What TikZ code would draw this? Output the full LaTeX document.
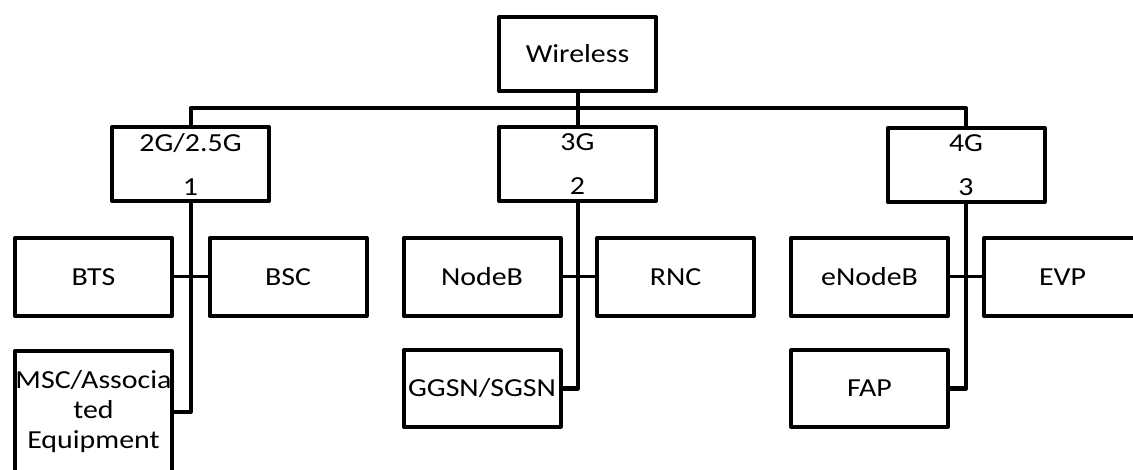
\documentclass[tikz,border=0pt]{standalone}
\usepackage{fontspec}
\setmainfont[FakeStretch=1.15]{Carlito}
\begin{document}
\begin{tikzpicture}[x=1pt,y=-1pt,
  unitbox/.style={draw, line width=4pt, line join=round, inner sep=0pt,
    minimum width=157pt, minimum height=78pt, align=center,
    font=\fontsize{26}{30}\selectfont},
  tierbox/.style={unitbox, minimum height=74pt, font=\fontsize{26}{44}\selectfont},
  trunk/.style={line width=4pt, line join=round},
  tie/.style={line width=3pt}]
\useasboundingbox (0,0) rectangle (1133,470);
\clip (0,0) rectangle (1133,470);

% root and generations
\node[tierbox] (W)  at (577.5,54)  {Wireless};
\node[tierbox] (T2) at (190.5,164) {2G/2.5G\\1};
\node[tierbox] (T3) at (577.5,164) {3G\\2};
\node[tierbox] (T4) at (966,165)   {4G\\3};

% 2G/2.5G elements
\node[unitbox] (BTS) at (93.5,277) {BTS};
\node[unitbox] (BSC) at (288,277)  {BSC};
\node[unitbox, minimum height=122pt] (MSC) at (93.5,412) {MSC/Associa\\ted\\Equipment};

% 3G elements
\node[unitbox] (NB)   at (482,277)   {NodeB};
\node[unitbox] (RNC)  at (675.5,277) {RNC};
\node[unitbox, minimum height=76pt] (GGSN) at (482,388.5) {GGSN/SGSN};

% 4G elements
\node[unitbox] (ENB) at (869.5,277)  {eNodeB};
\node[unitbox] (EVP) at (1062.5,277) {EVP};
\node[unitbox, minimum height=76pt] (FAP) at (869.5,388.5) {FAP};

% bus from the root to the generations
\coordinate (bus) at (577.5,108);
\draw[trunk] (W.south) -- (T3.north);
\draw[trunk] (T2.north) |- (bus) -| (T4.north);

% branches down to the network elements
\draw[trunk] (T2.south) |- (MSC.east);
\draw[tie] (BTS.east) -- (BSC.west);
\draw[trunk] (T3.south) |- (GGSN.east);
\draw[tie] (NB.east) -- (RNC.west);
\draw[trunk] (T4.south) |- (FAP.east);
\draw[tie] (ENB.east) -- (EVP.west);
\end{tikzpicture}
\end{document}
